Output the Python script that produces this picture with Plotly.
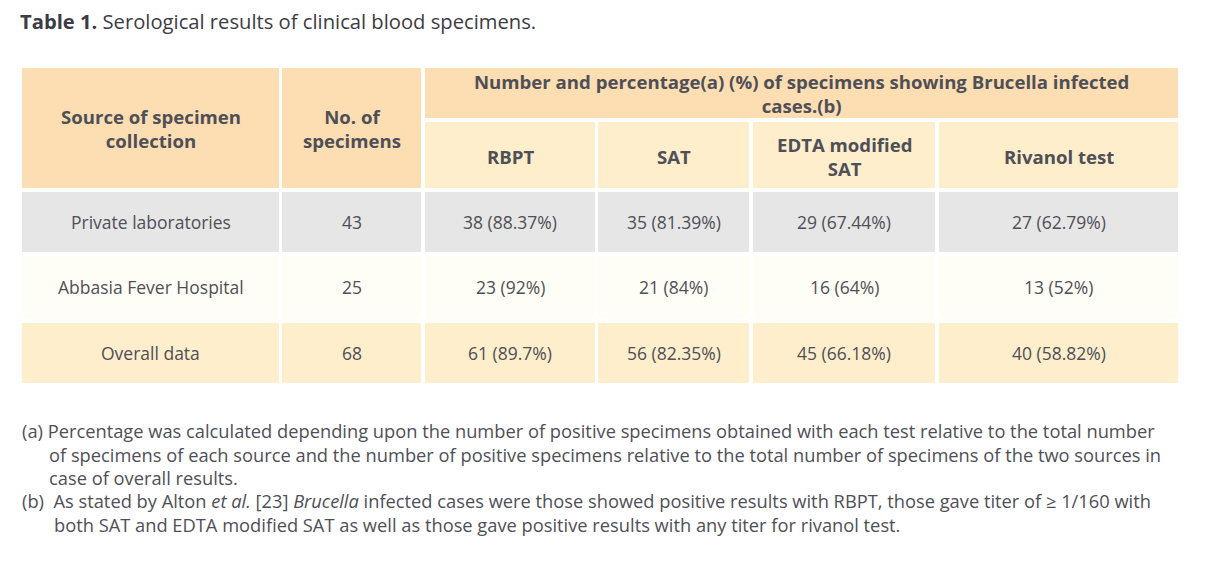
import plotly.graph_objects as go

# ---------------- data ----------------
sources = ["Private laboratories", "Abbasia Fever Hospital", "Overall data"]
n_specimens = [43, 25, 68]
tests = ["RBPT", "SAT", "EDTA modified<br>SAT", "Rivanol test"]
rbpt_n = [38, 23, 61]
rbpt_pct = ["88.37", "92", "89.7"]
sat_n = [35, 21, 56]
sat_pct = ["81.39", "84", "82.35"]
edta_n = [29, 16, 45]
edta_pct = ["67.44", "64", "66.18"]
riv_n = [27, 13, 40]
riv_pct = ["62.79", "52", "58.82"]

col_head_1 = "Source of specimen<br>collection"
col_head_2 = "No. of<br>specimens"
group_head = "Number and percentage(a) (%) of specimens showing Brucella infected<br>cases.(b)"
title_bold = "Table 1."
title_rest = " Serological results of clinical blood specimens."
footnotes = [
    ("(a) Percentage was calculated depending upon the number of positive specimens obtained with each test relative to the total number", 20),
    ("of specimens of each source and the number of positive specimens relative to the total number of specimens of the two sources in", 47),
    ("case of overall results.", 47),
    ("(b)  As stated by Alton <i>et al.</i> [23] <i>Brucella</i> infected cases were those showed positive results with RBPT, those gave titer of ≥ 1/160 with", 20),
    ("both SAT and EDTA modified SAT as well as those gave positive results with any titer for rivanol test.", 52),
]

# ---------------- layout geometry ----------------
W, H = 1208, 568
OFF = 8  # page body margin
col_edges = [(22, 279), (282, 421), (425, 595), (598, 749), (753, 935), (939, 1178)]
head1 = (68, 118)
head2 = (122, 188)
row_edges = [(192, 252), (256, 318), (323, 383)]

C_HEAD = "#FDDEB2"
C_SUB = "#FEEECC"
ROW_COLORS = ["#E6E6E6", "#FFFEF6", "#FEEECC"]
TXT = "#4F4F57"
FONT = "Open Sans"

shapes = []
annotations = []

def rect(x0, x1, y0, y1, color):
    shapes.append(dict(type="rect", xref="x", yref="y", x0=x0, x1=x1, y0=y0, y1=y1,
                       fillcolor=color, line=dict(width=0), layer="below"))

def text(x, y, s, size=17.5, bold=False, anchor="center", color=TXT):
    if bold:
        s = "<b>" + s + "</b>"
    annotations.append(dict(x=x, y=y, xref="x", yref="y", text=s, showarrow=False,
                            xanchor=anchor, yanchor="middle", align=anchor if anchor != "center" else "center",
                            font=dict(family=FONT, size=size, color=color)))

HB = 18.6
# header cells
rect(col_edges[0][0], col_edges[0][1], head1[0], head2[1], C_HEAD)
rect(col_edges[1][0], col_edges[1][1], head1[0], head2[1], C_HEAD)
rect(col_edges[2][0], col_edges[5][1], head1[0], head1[1], C_HEAD)
mid_y = (head1[0] + head2[1]) / 2
text(sum(col_edges[0]) / 2, mid_y, col_head_1, size=HB, bold=True)
text(sum(col_edges[1]) / 2, mid_y, col_head_2, size=HB, bold=True)
text((col_edges[2][0] + col_edges[5][1]) / 2, sum(head1) / 2, group_head, size=HB, bold=True)
for i, t in enumerate(tests):
    c = col_edges[2 + i]
    rect(c[0], c[1], head2[0], head2[1], C_SUB)
    text(sum(c) / 2, sum(head2) / 2 + 1, t, size=HB, bold=True)

# body
for r, src in enumerate(sources):
    y0, y1 = row_edges[r]
    vals = [src, str(n_specimens[r]),
            f"{rbpt_n[r]} ({rbpt_pct[r]}%)",
            f"{sat_n[r]} ({sat_pct[r]}%)",
            f"{edta_n[r]} ({edta_pct[r]}%)",
            f"{riv_n[r]} ({riv_pct[r]}%)"]
    for c, v in zip(col_edges, vals):
        rect(c[0], c[1], y0, y1, ROW_COLORS[r])
        text(sum(c) / 2, (y0 + y1) / 2, v)

# title
annotations.append(dict(x=18, y=21, xref="x", yref="y", showarrow=False, xanchor="left", yanchor="middle",
                        text=f"<b>{title_bold}</b>{title_rest}",
                        font=dict(family=FONT, size=20.2, color="#3C3C44")))

# footnotes
fy = [430, 454, 477, 500, 524]
for (s, x), y in zip(footnotes, fy):
    text(x, y, s, size=18.3, anchor="left")

fig = go.Figure()
fig.add_trace(go.Scatter(x=[OFF, W], y=[OFF, H], mode="markers", marker=dict(opacity=0),
                         hoverinfo="skip", showlegend=False))
fig.update_layout(
    width=W, height=H, margin=dict(l=0, r=0, t=0, b=0),
    paper_bgcolor="white", plot_bgcolor="white",
    xaxis=dict(range=[OFF, W + OFF], visible=False, fixedrange=True),
    yaxis=dict(range=[H + OFF, OFF], visible=False, fixedrange=True),
    shapes=shapes, annotations=annotations,
)
fig.write_html("out.html")
